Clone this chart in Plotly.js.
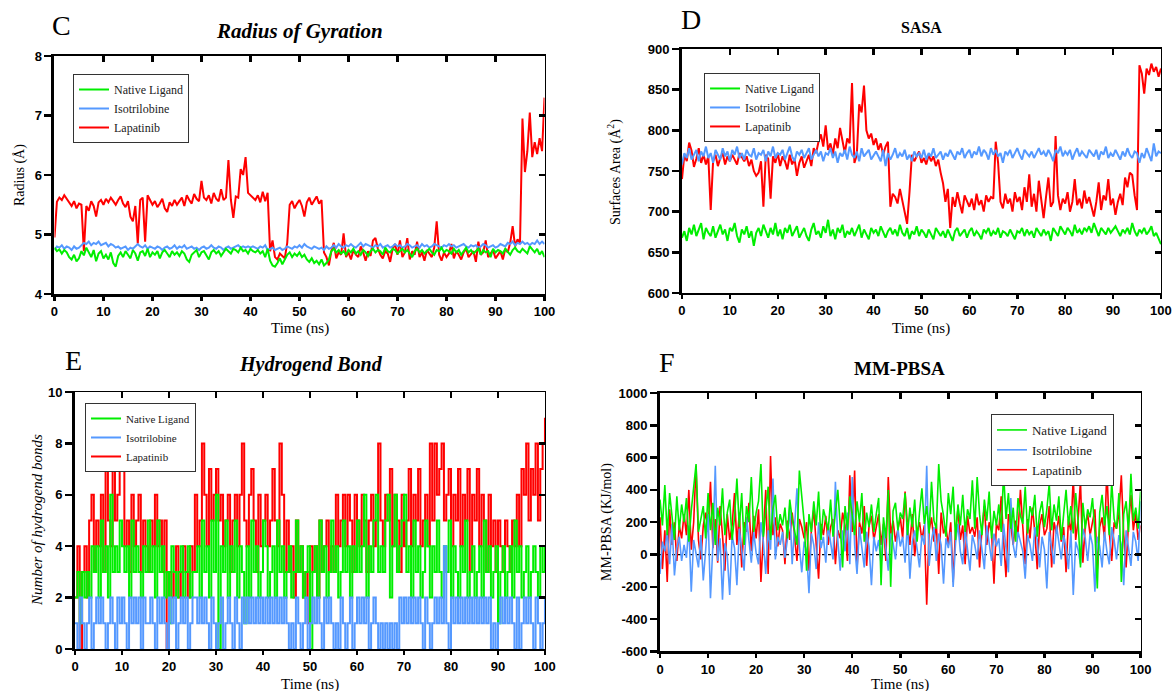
<!DOCTYPE html>
<html><head><meta charset="utf-8">
<script src="https://cdn.plot.ly/plotly-3.0.1.min.js"></script>
<style>html,body{margin:0;padding:0;background:#fff}#chart{width:1174px;height:691px}</style>
</head><body><div id="chart"></div>
<script>
const seriesNames = ['Native Ligand', 'Isotrilobine', 'Lapatinib'];
const timeTicks = [0,10,20,30,40,50,60,70,80,90,100];
const rgTicks = [4,5,6,7,8];
const sasaTicks = [600,650,700,750,800,850,900];
const hbTicks = [0,2,4,6,8,10];
const pbsaTicks = [-600,-400,-200,0,200,400,600,800,1000];

// Radius of gyration (Å), 0-100 ns
const rgNative = [4.78,4.72,4.75,4.68,4.74,4.70,4.62,4.58,4.66,4.55,4.60,
4.72,4.65,4.78,4.70,4.62,4.74,4.55,4.68,4.72,4.60,
4.66,4.58,4.70,4.52,4.46,4.64,4.70,4.62,4.72,4.66,
4.60,4.74,4.68,4.56,4.70,4.72,4.64,4.76,4.62,4.70,
4.66,4.72,4.60,4.70,4.74,4.68,4.62,4.72,4.66,4.70,
4.64,4.72,4.68,4.58,4.54,4.66,4.70,4.74,4.62,4.70,
4.72,4.66,4.58,4.70,4.74,4.68,4.72,4.64,4.70,4.76,
4.72,4.68,4.76,4.74,4.70,4.78,4.72,4.74,4.68,4.76,
4.72,4.70,4.74,4.68,4.72,4.62,4.76,4.56,4.48,4.46,
4.52,4.60,4.50,4.58,4.66,4.70,4.62,4.68,4.64,4.70,
4.62,4.66,4.58,4.54,4.60,4.52,4.56,4.50,4.58,4.48,
4.52,4.58,4.72,4.76,4.70,4.74,4.68,4.72,4.66,4.74,
4.70,4.76,4.68,4.72,4.66,4.74,4.70,4.64,4.72,4.76,
4.70,4.74,4.72,4.66,4.78,4.72,4.70,4.76,4.74,4.68,
4.72,4.76,4.70,4.74,4.68,4.62,4.72,4.76,4.70,4.74,
4.68,4.72,4.76,4.70,4.66,4.74,4.72,4.78,4.70,4.74,
4.72,4.68,4.76,4.70,4.74,4.66,4.72,4.78,4.70,4.74,
4.68,4.72,4.76,4.66,4.74,4.70,4.72,4.62,4.76,4.70,
4.74,4.72,4.68,4.76,4.70,4.66,4.74,4.78,4.72,4.70,
4.76,4.72,4.68,4.80,4.74,4.70,4.76,4.66,4.72,4.62];
const rgIso = [4.74,4.80,4.78,4.82,4.76,4.80,4.78,4.74,4.80,4.76,4.78,
4.82,4.86,4.84,4.88,4.82,4.86,4.84,4.88,4.82,4.84,
4.86,4.80,4.84,4.82,4.78,4.80,4.76,4.78,4.80,4.74,
4.78,4.76,4.80,4.84,4.80,4.78,4.82,4.76,4.80,4.78,
4.76,4.80,4.78,4.74,4.78,4.80,4.76,4.78,4.82,4.76,
4.80,4.78,4.82,4.76,4.78,4.80,4.76,4.78,4.74,4.78,
4.80,4.76,4.78,4.82,4.78,4.76,4.80,4.78,4.74,4.78,
4.80,4.76,4.78,4.80,4.82,4.78,4.80,4.78,4.80,4.78,
4.80,4.78,4.76,4.80,4.78,4.82,4.74,4.76,4.78,4.74,
4.76,4.78,4.74,4.76,4.80,4.78,4.76,4.80,4.78,4.82,
4.78,4.84,4.80,4.78,4.76,4.80,4.78,4.76,4.78,4.74,
4.80,4.76,4.78,4.82,4.78,4.84,4.80,4.78,4.82,4.80,
4.84,4.80,4.78,4.82,4.86,4.80,4.84,4.82,4.80,4.78,
4.82,4.80,4.84,4.78,4.80,4.82,4.78,4.80,4.84,4.80,
4.82,4.78,4.80,4.84,4.82,4.78,4.80,4.82,4.78,4.84,
4.80,4.82,4.78,4.80,4.84,4.82,4.80,4.78,4.82,4.80,
4.84,4.80,4.82,4.78,4.80,4.82,4.84,4.80,4.78,4.82,
4.80,4.82,4.78,4.80,4.84,4.82,4.78,4.80,4.82,4.78,
4.80,4.84,4.82,4.80,4.86,4.84,4.88,4.82,4.86,4.84,
4.88,4.84,4.86,4.82,4.86,4.84,4.90,4.84,4.88,4.84];
const rgLap = [4.95,5.55,5.62,5.58,5.66,5.60,5.52,5.48,5.56,5.44,5.52,
5.50,4.72,5.48,5.40,5.56,5.48,5.30,5.54,5.58,5.50,
5.60,5.54,5.62,5.56,5.50,5.58,5.64,5.52,5.46,5.56,
5.30,5.22,5.48,4.85,5.58,5.62,4.88,5.66,5.58,5.50,
5.56,5.46,5.52,5.60,5.44,5.38,5.54,5.48,5.58,5.50,
5.56,5.62,5.48,5.66,5.58,5.52,5.68,5.60,5.56,5.90,
5.62,5.58,5.66,5.52,5.70,5.60,5.56,5.76,5.58,5.62,
6.25,5.58,5.28,5.64,5.62,6.10,6.00,6.30,5.70,5.66,
5.62,5.58,5.66,5.54,5.72,5.56,5.70,4.72,4.90,4.62,
4.58,4.68,4.64,4.60,4.86,5.50,5.56,5.44,5.52,5.58,
5.48,5.30,5.54,5.62,5.50,5.56,5.64,5.52,5.58,4.70,
4.62,4.48,4.72,4.86,4.60,4.70,4.66,5.02,4.62,4.70,
4.58,4.74,4.66,4.62,4.80,4.70,4.56,4.72,4.64,4.90,
4.94,4.76,4.66,4.60,4.72,4.68,4.54,4.76,4.84,4.66,
4.90,4.62,4.70,4.94,4.58,4.72,4.66,4.88,4.62,4.70,
4.56,4.74,4.68,4.62,4.78,5.22,4.66,4.56,4.70,4.62,
4.68,4.84,4.60,4.72,4.66,4.58,4.70,4.76,4.62,4.68,
4.72,4.54,4.88,4.66,4.70,4.90,4.62,4.68,4.74,4.60,
4.66,4.72,4.58,4.76,4.70,4.86,5.14,4.80,4.92,4.86,
6.95,6.05,6.40,7.05,6.30,6.55,6.35,6.62,6.40,7.30];

// SASA (Å²)
const sasaNative = [668,676,664,680,672,684,670,678,686,666,680,
674,670,682,668,676,684,672,678,664,680,
676,686,670,662,678,672,682,668,676,658,
674,680,670,684,676,668,680,672,686,670,
678,666,680,674,684,670,676,682,668,674,
680,670,664,678,686,672,676,668,682,674,
690,670,678,666,680,674,684,668,676,672,
680,670,676,684,668,678,672,666,680,674,
678,670,682,674,668,676,680,672,678,670,
684,674,670,680,666,676,672,682,670,678,
674,668,678,672,666,680,674,670,676,668,
678,672,664,676,680,670,674,678,668,676,
680,670,676,672,666,678,674,680,670,676,
672,680,668,676,674,670,678,672,666,676,
674,680,670,678,672,676,668,680,674,670,
678,672,676,664,680,674,670,682,676,672,
680,676,670,684,674,678,672,680,676,682,
674,686,678,670,680,676,672,680,674,678,
682,676,670,678,674,680,672,686,676,670,
678,674,680,672,676,682,670,674,668,660];
const sasaIso = [758,772,766,778,764,770,776,762,774,768,780,
766,772,760,776,770,764,778,768,774,762,
776,770,780,766,772,764,776,770,768,778,
764,772,770,776,762,774,768,780,766,772,
770,776,764,772,780,768,762,774,770,776,
766,772,778,764,770,776,768,774,762,772,
770,778,766,774,760,772,768,776,764,780,
770,766,774,762,778,768,772,776,764,770,
774,768,762,776,756,772,764,770,778,766,
772,768,776,764,770,762,774,768,772,766,
776,764,772,768,778,766,770,774,764,772,
768,776,770,764,774,770,778,766,772,776,
766,774,770,780,768,776,772,764,778,770,
776,768,772,760,774,770,776,766,772,778,
770,764,776,772,768,774,766,772,778,770,
774,768,776,770,762,776,772,780,768,774,
770,776,764,772,778,768,774,770,766,776,
772,768,776,764,774,770,780,766,772,768,
776,770,764,774,768,778,770,766,774,772,
760,772,766,778,770,762,784,768,774,772];
const sasaLap = [740,770,762,785,775,755,765,778,760,770,758,
768,702,762,770,756,766,772,758,768,762,
770,764,758,772,766,762,768,756,764,750,
744,748,762,706,770,765,716,768,760,772,
756,768,762,752,770,758,765,744,760,768,
754,762,770,756,778,772,786,795,780,806,
776,784,770,790,778,803,786,772,790,784,
858,760,770,832,822,855,800,790,796,782,
790,776,784,770,780,786,706,722,718,710,
728,712,700,685,724,770,762,768,774,760,
766,758,770,762,768,756,764,748,735,712,
728,680,718,706,724,710,698,720,712,706,
716,702,722,708,714,700,720,712,718,716,
786,760,712,704,722,710,716,700,724,712,
718,702,730,712,746,706,722,700,738,714,
692,718,742,706,712,793,720,702,716,710,
724,700,712,740,708,716,704,726,710,718,
706,694,712,736,702,720,714,740,708,716,
696,712,722,708,742,730,748,745,720,702,
880,870,845,876,868,882,872,878,866,876];

// Number of hydrogen bonds
const hbNative = [2,3,1,3,2,3,2,4,3,4,2,
5,3,4,2,6,3,4,3,5,4,
3,4,2,5,3,4,3,2,4,3,
5,3,4,2,5,3,4,2,3,1,
4,3,2,3,4,2,3,4,2,3,
3,4,2,5,3,4,2,5,3,6,
0,4,3,5,2,4,3,5,2,4,
3,1,4,2,5,3,4,2,3,5,
4,2,3,4,2,5,3,4,2,3,
4,2,3,5,3,4,2,3,4,0,
3,4,2,5,3,4,2,3,5,3,
4,2,3,5,3,4,2,4,3,5,
3,4,6,2,4,3,5,6,3,4,
3,5,6,2,4,6,3,4,5,6,
3,4,2,5,3,4,2,3,5,4,
2,4,3,5,3,2,4,3,5,2,
4,3,2,4,3,5,2,3,4,2,
3,4,2,5,3,4,2,3,4,1,
3,4,2,3,4,2,5,3,4,2,
3,4,2,3,4,3,2,4,3,4];
const hbIso = [1,0,2,1,0,1,2,0,1,2,1,
2,1,0,1,2,1,0,2,1,2,
1,0,2,1,2,1,2,0,2,1,
1,2,1,0,2,1,2,1,0,2,
1,2,0,1,2,1,2,0,1,2,
2,1,2,1,2,1,0,2,1,0,
1,2,0,1,2,1,0,2,1,0,
2,1,2,1,2,1,2,1,2,1,
2,1,2,1,2,1,2,1,2,1,
0,1,0,2,1,0,1,2,0,1,
2,1,2,1,0,2,1,2,1,0,
1,0,2,1,0,1,2,0,1,2,
1,2,1,2,0,1,2,1,0,1,
0,1,0,1,0,1,0,2,1,2,
1,2,1,2,1,2,1,0,2,1,
0,1,2,1,2,1,4,1,0,2,
1,2,1,2,1,2,1,2,1,2,
1,2,1,2,1,2,0,1,0,1,
2,1,2,1,2,1,0,2,0,1,
2,1,2,1,0,2,1,0,1,2];
const hbLap = [2,4,0,3,4,2,5,6,3,5,4,
6,3,7,5,4,7,5,6,7,8,
4,5,3,6,4,5,6,3,5,4,
3,5,4,6,4,5,3,5,0,3,
2,3,4,2,3,4,3,2,4,3,
6,4,5,8,6,4,7,5,6,7,
5,6,4,5,6,3,5,6,4,6,
8,5,4,6,7,5,3,6,4,5,
6,4,5,7,5,4,8,6,3,5,
3,4,2,5,3,4,2,3,1,4,
3,4,2,5,3,4,5,3,4,3,
6,4,5,6,4,6,5,3,6,5,
4,6,5,3,5,6,4,5,8,5,
4,6,5,7,4,6,5,3,6,4,
5,7,4,6,5,7,4,5,6,4,
8,5,8,6,7,8,5,6,7,4,
6,5,7,4,6,5,7,3,6,5,
7,4,6,5,3,6,4,5,3,5,
4,3,5,4,3,5,4,6,4,7,
6,8,5,7,6,8,5,7,8,9];

// MM-PBSA (kJ/mol)
const pbsaNative = [340,180,430,120,380,250,90,360,150,310,200,
350,80,270,400,560,140,210,300,100,380,
150,320,60,290,180,410,120,260,340,90,
230,470,170,380,60,300,200,480,140,260,
330,560,110,250,420,90,280,370,150,250,
180,290,100,340,220,150,60,520,380,200,
-100,250,140,330,180,390,90,280,220,150,
340,110,260,400,180,-80,300,150,360,230,
120,330,200,380,80,260,170,310,140,250,
350,-190,230,100,400,-200,270,320,150,260,
220,380,120,290,170,340,80,260,410,190,
300,130,450,210,160,560,330,240,110,380,
250,420,90,310,180,370,140,280,220,460,
160,480,250,120,340,210,390,100,270,180,
310,140,510,220,380,160,290,80,350,240,
190,420,130,300,240,370,110,260,330,170,
280,440,150,310,210,360,90,250,400,180,
300,130,380,210,-80,320,160,280,230,350,
140,-210,260,370,180,300,120,450,220,160,
380,-170,250,330,140,500,210,290,160,390];
const pbsaIso = [-120,80,20,150,-60,190,-130,40,110,-40,60,
-20,180,-230,90,10,-80,120,-160,30,250,
-270,60,550,-40,100,-280,70,-10,-250,120,
40,-190,160,20,-100,230,90,-50,140,10,
-60,200,80,-120,150,30,470,-30,110,60,
140,-20,90,300,-60,160,410,50,-110,80,
20,-240,130,60,-90,200,40,110,-50,180,
70,-30,450,90,-100,150,20,260,-60,480,
60,-120,170,30,-80,140,50,-190,110,20,
90,-60,180,40,-100,130,70,-30,160,50,
110,-50,200,-150,80,150,30,-80,120,60,
550,-70,90,170,-40,130,60,-180,100,40,
140,-200,70,190,20,-60,160,40,-100,120,
60,-30,150,30,-90,180,70,-40,130,50,
100,-70,190,40,-110,350,60,-20,140,80,
20,-150,120,60,-40,170,90,-80,110,30,
-210,140,50,-60,180,70,-30,120,40,-90,
150,-250,80,30,-60,160,100,-40,130,60,
-230,110,50,-80,140,20,-60,170,90,-30,
120,60,-190,150,30,-70,140,80,-40,330];
const pbsaLap = [230,-90,150,-170,280,60,200,-40,180,100,250,
120,400,30,200,550,90,-30,180,260,140,
450,40,220,-50,300,120,-100,250,90,180,
380,60,260,-80,200,140,320,20,240,100,
280,-170,160,400,-120,610,120,230,50,190,
150,-60,210,90,260,130,-40,220,170,100,
200,-100,150,280,70,-150,190,120,240,60,
170,220,-60,150,100,260,180,-40,490,140,
520,-90,200,130,300,-70,180,240,90,160,
250,60,190,-40,480,120,210,80,160,230,
100,390,170,60,250,-10,140,200,90,180,
-310,150,230,80,190,-120,260,130,170,60,
200,-170,150,280,90,180,-60,240,130,170,
110,230,-80,160,300,60,200,140,-180,190,
150,360,90,-140,250,180,60,210,130,400,
170,-60,220,100,290,140,-90,180,250,120,
160,300,-80,200,130,240,80,170,-110,220,
140,480,90,210,460,-50,180,250,120,200,
280,-90,170,230,100,530,140,-40,200,160,
250,490,120,-80,200,370,150,260,90,180];

// ---------- styling ----------
const COLORS = {native: '#00ee00', iso: '#5599ff', lap: '#ff0000'};
const SERIF = 'Liberation Serif, Times New Roman, serif';
const SANS = 'Liberation Sans, Arial, sans-serif';
const timeOf = v => v.map((_, i) => i * 100 / (v.length - 1));

const panels = [
  {n: 1, dom: {x: [0.0464, 0.4638], y: [0.5745, 0.9190]}, range: [4, 8], ticks: rgTicks,
   data: {native: rgNative, iso: rgIso, lap: rgLap}, order: ['lap', 'iso', 'native'], shape: 'linear', width: 2,
   legend: {x: 0.0622, y: 0.8929, size: 12}},
  {n: 2, dom: {x: [0.5809, 0.9889], y: [0.5760, 0.9291]}, range: [600, 900], ticks: sasaTicks,
   data: {native: sasaNative, iso: sasaIso, lap: sasaLap}, order: ['lap', 'iso', 'native'], shape: 'linear', width: 2,
   legend: {x: 0.5997, y: 0.8944, size: 12}},
  {n: 3, dom: {x: [0.0639, 0.4642], y: [0.0608, 0.4327]}, range: [0, 10], ticks: hbTicks,
   data: {native: hbNative, iso: hbIso, lap: hbLap}, order: ['lap', 'native', 'iso'], shape: 'hv', width: 2,
   legend: {x: 0.0724, y: 0.4168, size: 11}},
  {n: 4, dom: {x: [0.5622, 0.9715], y: [0.0572, 0.4313]}, range: [-600, 1000], ticks: pbsaTicks,
   data: {native: pbsaNative, iso: pbsaIso, lap: pbsaLap}, order: ['lap', 'iso', 'native'], shape: 'linear', width: 1.6,
   legend: {x: 0.8441, y: 0.4009, size: 13}}
];

const nameOf = {native: seriesNames[0], iso: seriesNames[1], lap: seriesNames[2]};
const rankOf = {native: 1, iso: 2, lap: 3};
const traces = [];
const layout = {
  width: 1174, height: 691, margin: {l: 0, r: 0, t: 0, b: 0},
  paper_bgcolor: '#fff', plot_bgcolor: '#fff', showlegend: true,
  annotations: [], shapes: []
};

panels.forEach(p => {
  const sfx = p.n === 1 ? '' : String(p.n);
  const xa = 'x' + sfx, ya = 'y' + sfx;
  const legendId = p.n === 1 ? 'legend' : 'legend' + p.n;
  p.order.forEach(k => {
    traces.push({
      type: 'scatter', mode: 'lines', name: nameOf[k], x: timeOf(p.data[k]), y: p.data[k],
      xaxis: xa, yaxis: ya, legend: legendId, legendrank: rankOf[k],
      line: {color: COLORS[k], width: p.width, shape: p.shape}, hoverinfo: 'skip'
    });
  });
  // empty helper traces so the mirrored frame axes (top / right) are drawn
  traces.push({type: 'scatter', mode: 'lines', x: [], y: [], xaxis: 'x' + (p.n + 4), yaxis: ya, showlegend: false, hoverinfo: 'skip'});
  traces.push({type: 'scatter', mode: 'lines', x: [], y: [], xaxis: xa, yaxis: 'y' + (p.n + 4), showlegend: false, hoverinfo: 'skip'});

  const tickfont = {family: SANS, size: 13, color: '#000', weight: 'bold'};
  layout['xaxis' + sfx] = {
    domain: p.dom.x, anchor: ya, range: [0, 100], tickvals: timeTicks, ticktext: timeTicks.map(String),
    showline: true, linecolor: '#000', linewidth: 2.5, ticks: 'outside', ticklen: 4, tickwidth: 2.5, tickcolor: '#000',
    showgrid: false, zeroline: false, tickfont: tickfont, fixedrange: true
  };
  layout['yaxis' + sfx] = {
    domain: p.dom.y, anchor: xa, range: p.range, tickvals: p.ticks, ticktext: p.ticks.map(String),
    showline: true, linecolor: '#000', linewidth: 3, ticks: 'outside', ticklen: 7, tickwidth: 2.5, tickcolor: '#000',
    showgrid: false, zeroline: false, tickfont: tickfont, fixedrange: true
  };
  layout['xaxis' + (p.n + 4)] = {
    overlaying: xa, anchor: ya, side: 'top', range: [0, 100], tickvals: timeTicks,
    showline: true, linecolor: '#000', linewidth: 1.5, ticks: 'inside', ticklen: 6, tickwidth: 2.5, tickcolor: '#000',
    showticklabels: false, showgrid: false, zeroline: false, fixedrange: true
  };
  layout['yaxis' + (p.n + 4)] = {
    overlaying: ya, anchor: xa, side: 'right', range: p.range, tickvals: p.ticks,
    showline: true, linecolor: '#000', linewidth: 1.5, ticks: 'inside', ticklen: 6, tickwidth: 2.5, tickcolor: '#000',
    showticklabels: false, showgrid: false, zeroline: false, fixedrange: true
  };
  layout[legendId] = {
    x: p.legend.x, y: p.legend.y, xanchor: 'left', yanchor: 'top', bgcolor: '#fff',
    bordercolor: '#333', borderwidth: 1, tracegroupgap: 0, itemwidth: 30,
    font: {family: SERIF, size: p.legend.size, color: '#222'}
  };
});

// dotted zero reference line in MM-PBSA panel
layout.shapes.push({type: 'line', xref: 'x4 domain', yref: 'y4', x0: 0, x1: 1, y0: 0, y1: 0,
  line: {color: '#000', width: 1.2, dash: 'dot'}, layer: 'below'});

const ann = (text, x, y, font, extra) => Object.assign({
  text: text, x: x, y: y, xref: 'paper', yref: 'paper', xanchor: 'center', yanchor: 'middle',
  showarrow: false, font: Object.assign({family: SERIF, color: '#000'}, font)
}, extra || {});

layout.annotations.push(
  ann('C', 0.0528, 0.9638, {size: 28}),
  ann('Radius of Gyration', 0.2555, 0.9551, {size: 21, weight: 'bold', style: 'italic'}),
  ann('D', 0.5886, 0.9711, {size: 28}),
  ann('SASA', 0.7845, 0.9609, {size: 16, weight: 'bold'}),
  ann('E', 0.0630, 0.4790, {size: 28}),
  ann('Hydrogend Bond', 0.2649, 0.4718, {size: 20, weight: 'bold', style: 'italic'}),
  ann('F', 0.5681, 0.4761, {size: 28}),
  ann('MM-PBSA', 0.7666, 0.4660, {size: 19, weight: 'bold'}),
  ann('Time (ns)', 0.2555, 0.5239, {size: 15}),
  ann('Radius (Å)', 0.0170, 0.7467, {size: 14}, {textangle: -90}),
  ann('Time (ns)', 0.7845, 0.5239, {size: 15}),
  ann('Surfaces Area (Å<sup>2</sup>)', 0.5239, 0.7511, {size: 14}, {textangle: -90}),
  ann('Time (ns)', 0.2641, 0.0094, {size: 15}),
  ann('Number of hydrogend bonds', 0.0315, 0.2475, {size: 15, style: 'italic'}, {textangle: -90}),
  ann('Time (ns)', 0.7666, 0.0094, {size: 15}),
  ann('MM-PBSA (KJ/mol)', 0.5170, 0.2446, {size: 14}, {textangle: -90})
);

Plotly.newPlot('chart', traces, layout, {displayModeBar: false, staticPlot: true});
</script>
</body></html>
